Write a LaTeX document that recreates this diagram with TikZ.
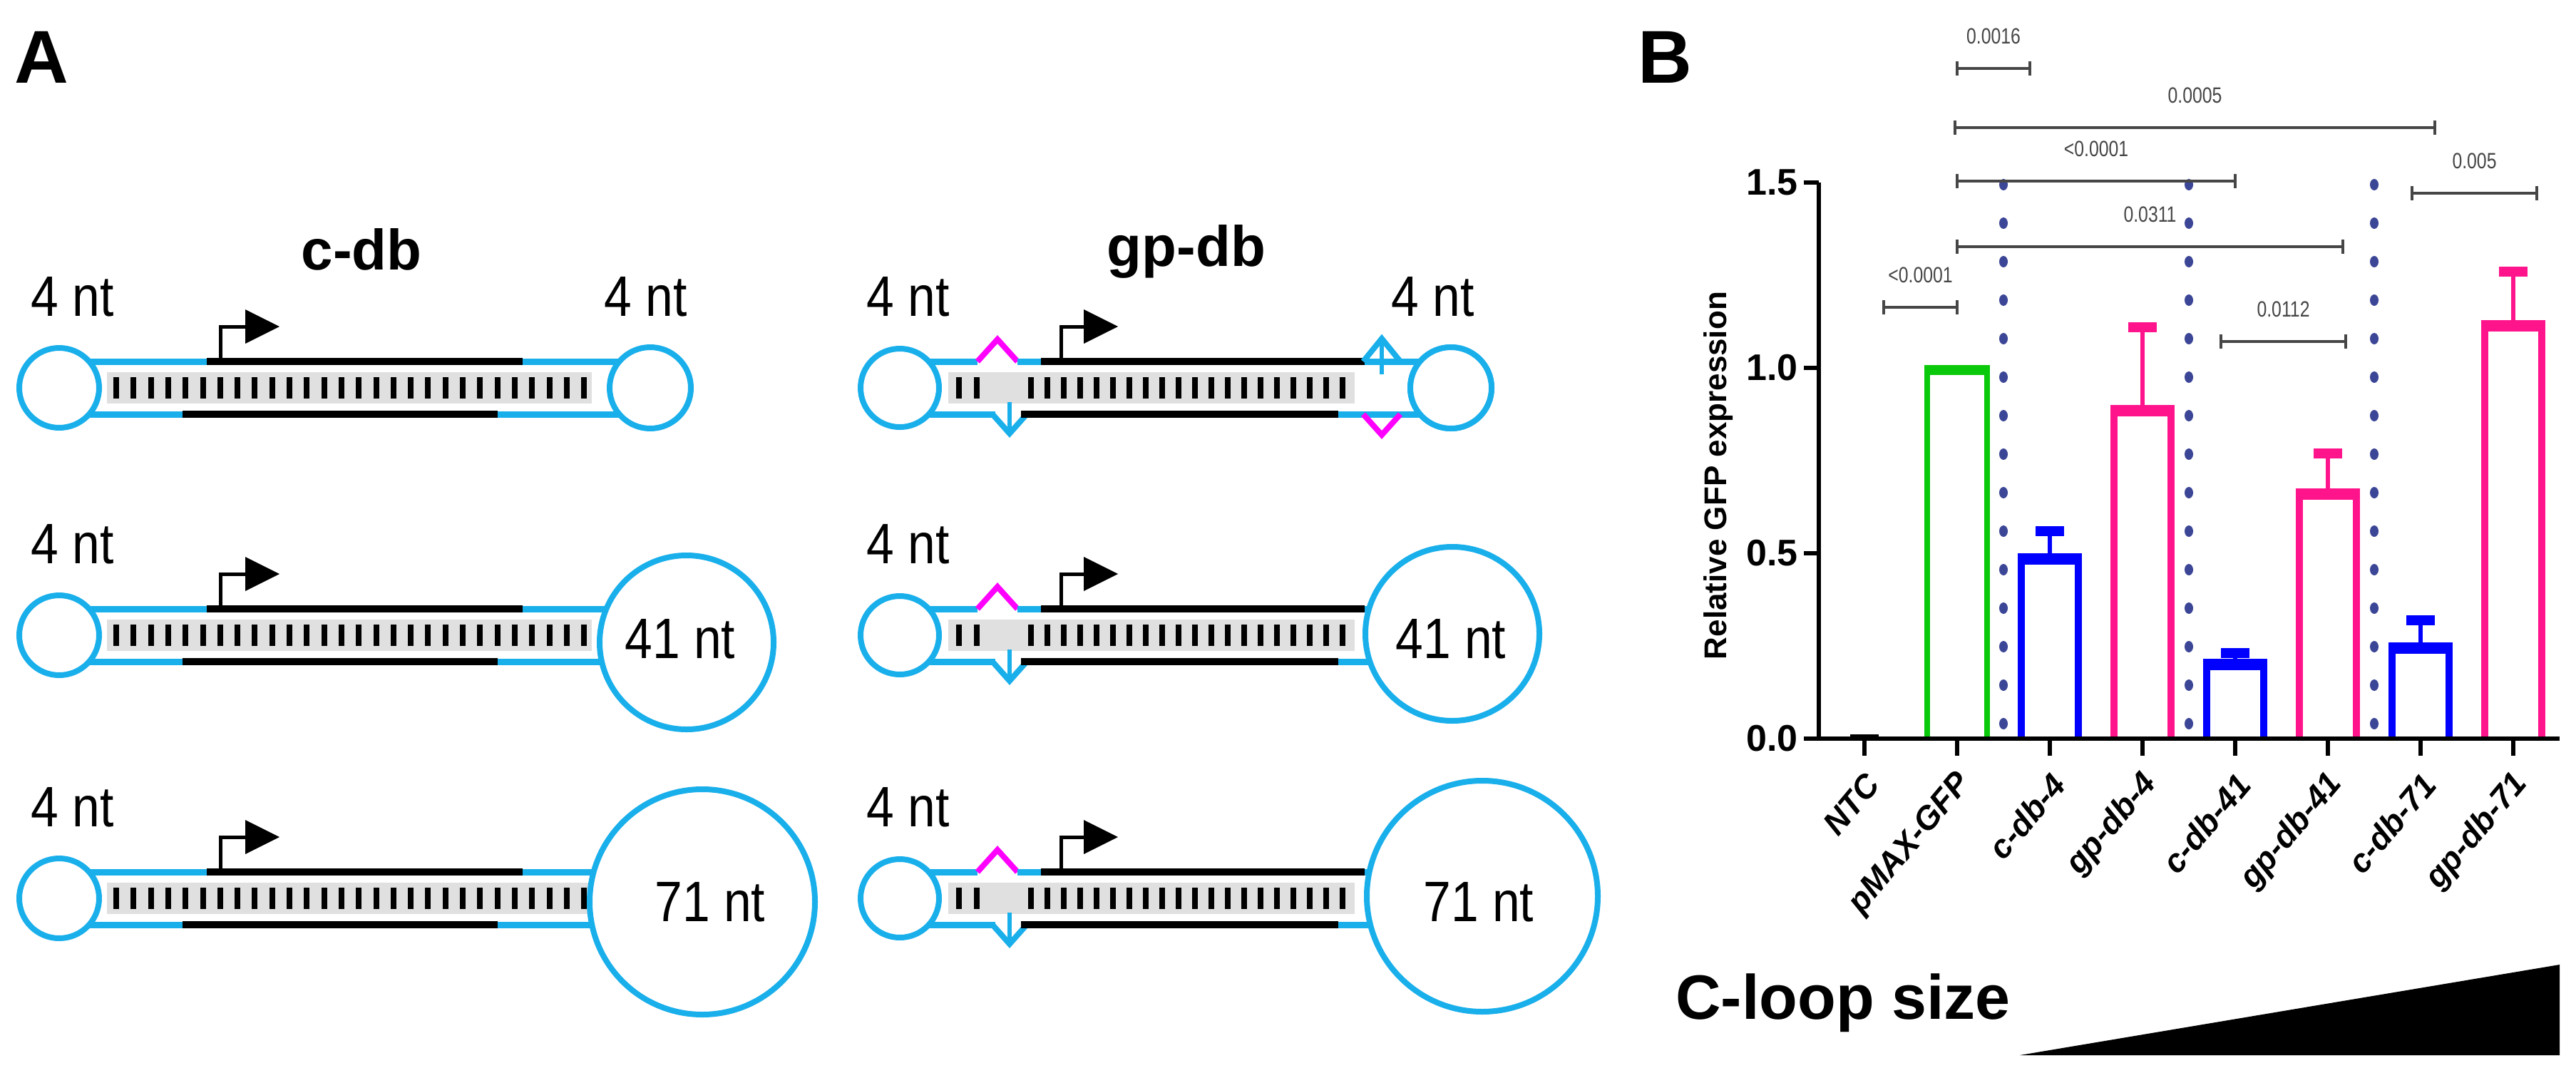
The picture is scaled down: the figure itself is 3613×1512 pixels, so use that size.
\documentclass[tikz,border=0pt]{standalone}
\usepackage{fontspec}
\setmainfont{Liberation Sans}
\usetikzlibrary{calc}
\definecolor{loopblue}{RGB}{25,175,235}
\definecolor{bmag}{RGB}{255,0,255}
\definecolor{barblue}{RGB}{0,0,255}
\definecolor{barpink}{RGB}{255,20,140}
\definecolor{bargreen}{RGB}{10,200,10}
\definecolor{dotnavy}{RGB}{60,70,150}
\definecolor{pgray}{RGB}{70,70,70}
\begin{document}
\begin{tikzpicture}[x=1pt,y=-1pt,
  strandB/.style={loopblue,line width=9pt},
  strandK/.style={black,line width=10pt},
  loopc/.style={draw=loopblue,line width=8pt,fill=white},
  rung/.style={black,line width=8pt},
  band/.style={fill=black!12,draw=none},
  lab/.style={font=\fontsize{80}{82}\selectfont,inner sep=0,xscale=0.87},
  hdr/.style={font=\fontsize{80}{82}\selectfont\bfseries,inner sep=0},
  panel/.style={font=\fontsize{105}{110}\selectfont\bfseries,inner sep=0},
  tick/.style={font=\fontsize{52}{54}\selectfont\bfseries,anchor=east,inner sep=0},
  xl/.style={font=\fontsize{46}{48}\selectfont\bfseries\itshape,anchor=east,rotate=50,inner sep=0},
  pv/.style={font=\fontsize{31}{32}\selectfont,text=pgray,inner sep=0,xscale=0.8},
  brk/.style={pgray,line width=3.5pt},
  bar/.style={line width=10pt},
  ax/.style={black,line width=6pt}]
\useasboundingbox (0,0) rectangle (3613,1512);
\fill[white] (0,0) rectangle (3613,1512);
\node[panel] (A) at (58,80) {A};
\node[panel] (B) at (2335,80) {B};
\node[hdr] (hc) at (507,350) {c-db};
\node[hdr] (hg) at (1664,353) {gp-db};
% ---------- c-db column ----------
\foreach \Y/\cx/\cy/\r/\lbl/\lx [count=\i] in {544/912/544/57/{}/0, 891/963/901/122/41 nt/954, 1260/985/1265/158/71 nt/996}{
  \fill[band] (150,\Y-22) rectangle (830,\Y+22);
  \draw[strandB] (83,\Y-37) -- (290,\Y-37);
  \draw[strandK] (290,\Y-37) -- (733,\Y-37);
  \draw[strandB] (733,\Y-37) -- (\cx,\Y-37);
  \draw[strandB] (83,\Y+37) -- (256,\Y+37);
  \draw[strandK] (256,\Y+37) -- (698,\Y+37);
  \draw[strandB] (698,\Y+37) -- (\cx,\Y+37);
  \foreach \k in {0,...,27} \draw[rung] (163+\k*24.3,\Y-15) -- (163+\k*24.3,\Y+15);
  \draw[loopc] (83,\Y) circle (56);
  \draw[loopc] (\cx,\cy) circle (\r);
  \draw[line width=5pt] (309,\Y-37) -- (309,\Y-86) -- (346,\Y-86);
  \fill (344,\Y-110) -- (392,\Y-86) -- (344,\Y-62) -- cycle;
  \node[lab] (c4l\i) at (102,\Y-128) {4 nt};
  \ifnum\i>1 \node[lab] (cr\i) at (\lx,\Y+5) {\lbl};\fi
}
\node[lab] (c4r1) at (906,416) {4 nt};
% ---------- gp-db column ----------
\foreach \Y/\cx/\cy/\r/\lbl/\lx [count=\i] in {544/2035/544/57/{}/0, 891/2037/889/122/41 nt/2035, 1260/2079/1257/162/71 nt/2074}{
  \fill[band] (1330,\Y-22) rectangle (1900,\Y+22);
  \draw[strandB] (1262,\Y-37) -- (1371,\Y-37);
  \draw[bmag,line width=8pt,line join=miter] (1371,\Y-37) -- (1399,\Y-68) -- (1427,\Y-37);
  \draw[strandB] (1427,\Y-37) -- (1460,\Y-37);
  \draw[strandK] (1460,\Y-37) -- (1914,\Y-37);
  \draw[strandB] (1914,\Y-37) -- (\cx,\Y-37);
  \draw[strandB] (1262,\Y+37) -- (1396,\Y+37);
  \draw[loopblue,line width=8pt] (1392,\Y+37) -- (1416,\Y+64) -- (1440,\Y+37);
  \draw[loopblue,line width=6pt] (1416,\Y+20) -- (1416,\Y+62);
  \draw[strandK] (1432,\Y+37) -- (1877,\Y+37);
  \draw[strandB] (1877,\Y+37) -- (\cx,\Y+37);
  \draw[rung] (1345,\Y-15) -- (1345,\Y+15);
  \draw[rung] (1370,\Y-15) -- (1370,\Y+15);
  \foreach \k in {0,...,19} \draw[rung] (1446+\k*23,\Y-15) -- (1446+\k*23,\Y+15);
  \draw[loopc] (1262,\Y) circle (55);
  \draw[loopc] (\cx,\cy) circle (\r);
  \draw[line width=5pt] (1488,\Y-37) -- (1488,\Y-86) -- (1522,\Y-86);
  \fill (1520,\Y-110) -- (1568,\Y-86) -- (1520,\Y-62) -- cycle;
  \node[lab] (g4l\i) at (1274,\Y-128) {4 nt};
  \ifnum\i>1 \node[lab] (gr\i) at (\lx,\Y+5) {\lbl};\fi
}
% gp row1 right junction details
\draw[loopblue,line width=8pt] (1912,507) -- (1938,475) -- (1964,507);
\draw[loopblue,line width=6pt] (1938,480) -- (1938,525);
\draw[bmag,line width=8pt] (1912,581) -- (1938,610) -- (1964,581);
\draw[loopc] (2035,544) circle (57);
\node[lab] (g4r1) at (2010,416) {4 nt};
% ---------- chart ----------
\foreach \dx in {2810,3070,3330}
  \foreach \k in {0,...,14} \fill[dotnavy] (\dx,259+\k*54) ellipse (6 and 8);
\foreach \cx/\v/\e/\c in {2875/0.49/0.56/barblue, 3005/0.89/1.11/barpink, 3135/0.205/0.23/barblue, 3265/0.665/0.77/barpink, 3395/0.25/0.32/barblue, 3525/1.12/1.26/barpink}{
  \draw[\c,line width=6pt] (\cx,1036-520*\v) -- (\cx,1036-520*\e);
  \draw[\c,line width=14pt] (\cx-20,1036-520*\e) -- (\cx+20,1036-520*\e);
  \draw[\c,bar] (\cx-40,1036) -- (\cx-40,1036-520*\v) -- (\cx+40,1036-520*\v) -- (\cx+40,1036);
  \draw[\c,line width=16pt] (\cx-45,1036-520*\v+3) -- (\cx+45,1036-520*\v+3);
}
\draw[bargreen,line width=8pt] (2703,1036) -- (2703,516) -- (2787,516) -- (2787,1036);
\draw[bargreen,line width=14pt] (2699,519) -- (2791,519);
\draw[line width=8pt] (2595,1034) -- (2635,1034);
\draw[ax] (2551,256) -- (2551,1036);
\draw[ax] (2530,1036) -- (3590,1036);
\foreach \v/\t in {0/0.0,0.5/0.5,1/1.0,1.5/1.5}{
  \draw[ax] (2530,1036-520*\v) -- (2551,1036-520*\v);
  \node[tick] (t\t) at (2522,1036-520*\v) {\t};
}
\foreach \tx/\l in {2615/NTC,2745/pMAX-GFP,2875/c-db-4,3005/gp-db-4,3135/c-db-41,3265/gp-db-41,3395/c-db-71,3525/gp-db-71}{
  \draw[ax] (\tx,1036) -- (\tx,1060);
  \node[xl] (x\l) at (\tx+12,1092) {\l};
}
\node[font=\fontsize{44}{46}\selectfont\bfseries,rotate=90,inner sep=0] (ylab) at (2410,667) {Relative GFP expression};
\foreach \a/\b/\y/\t/\n in {2745/2847/96/0.0016/p1, 2742/3415/179/0.0005/p2, 2745/3135/254/{<0.0001}/p3, 3383/3558/271/0.005/p4, 2745/3286/346/0.0311/p5, 2642/2745/431/{<0.0001}/p6, 3115/3290/479/0.0112/p7}{
  \draw[brk] (\a,\y) -- (\b,\y);
  \draw[brk] (\a,\y-10) -- (\a,\y+10);
  \draw[brk] (\b,\y-10) -- (\b,\y+10);
  \node[pv] (\n) at ({(\a+\b)/2},\y-45) {\t};
}
\node[font=\fontsize{88}{90}\selectfont\bfseries,anchor=west,inner sep=0] (cls) at (2350,1407) {C-loop size};
\fill (2833,1480) -- (3590,1480) -- (3590,1353) -- cycle;
\end{tikzpicture}
\end{document}
